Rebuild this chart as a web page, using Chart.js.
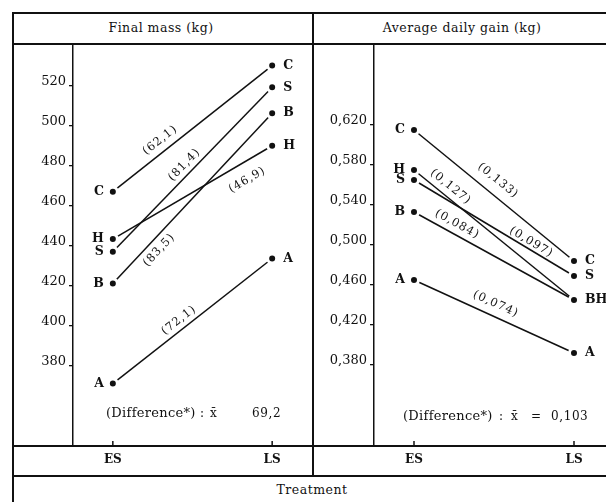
<!DOCTYPE html>
<html><head><meta charset="utf-8">
<script src="https://cdn.jsdelivr.net/npm/chart.js@4/dist/chart.umd.min.js"></script>
<style>
html,body{margin:0;padding:0;background:#fff;overflow:hidden;width:606px;height:502px;}
#wrap{position:relative;width:606px;height:502px;font-family:"DejaVu Serif","Liberation Serif",serif;color:#111;overflow:hidden;}
.h{position:absolute;background:#111;height:1.5px}
.v{position:absolute;background:#111;width:1.5px}
.t{position:absolute;white-space:pre;font-size:12px;line-height:14px;}
.hd{letter-spacing:0.5px;font-size:12.5px}
.df{font-size:13px;letter-spacing:0.3px}
.box{position:absolute}
</style></head><body>
<div id="wrap">
  <div class="h" style="left:12px;top:12px;width:600px"></div>
  <div class="h" style="left:12px;top:43px;width:600px"></div>
  <div class="h" style="left:12px;top:445px;width:600px"></div>
  <div class="h" style="left:12px;top:475px;width:600px"></div>
  <div class="v" style="left:12px;top:12px;height:500px"></div>
  <div class="v" style="left:312px;top:12px;height:464px"></div>
  <div class="t hd" style="left:0;top:21px;width:322px;text-align:center">Final mass (kg)</div>
  <div class="t hd" style="left:312px;top:21px;width:300px;text-align:center">Average daily gain (kg)</div>
  <div class="t hd" style="left:0;top:483px;width:624px;text-align:center">Treatment</div>
  <div class="box" style="left:12px;top:43px;width:300px;height:433px"><canvas id="c1" width="300" height="433"></canvas></div>
  <div class="box" style="left:312px;top:43px;width:302px;height:433px"><canvas id="c2" width="302" height="433"></canvas></div>
  <div class="t df" style="left:106px;top:406px">(Difference*)</div>
  <div class="t" style="left:200px;top:406px">:</div>
  <div class="t" style="left:210px;top:406px">x̄</div>
  <div class="t" style="left:252px;top:406px;letter-spacing:0.6px">69,2</div>
  <div class="t df" style="left:403px;top:409px">(Difference*)</div>
  <div class="t" style="left:499px;top:409px">:</div>
  <div class="t" style="left:511px;top:409px">x̄</div>
  <div class="t" style="left:531px;top:409px">=</div>
  <div class="t" style="left:551px;top:409px;letter-spacing:0.6px">0,103</div>
</div>
<script>
// ---- data ----
const treatments = ['ES', 'LS'];
const groups = ['A', 'B', 'C', 'H', 'S'];
const massES = [370.8, 421.0, 467.0, 443.2, 436.9];
const massLS = [433.5, 506.3, 530.2, 490.0, 519.3];
const massDiff = ['(72,1)', '(83,5)', '(62,1)', '(46,9)', '(81,4)'];
const adgES = [0.465, 0.533, 0.615, 0.575, 0.565];
const adgLS = [0.392, 0.445, 0.484, 0.445, 0.469];
const adgDiff = ['(0,074)', '(0,084)', '(0,133)', '(0,127)', '(0,097)'];
const adgLSLabels = ['A', 'BH', 'C', '', 'S'];
const massTicks = [380, 400, 420, 440, 460, 480, 500, 520];
const adgTicks = [0.380, 0.420, 0.460, 0.500, 0.540, 0.580, 0.620];

// ---- label placement (fraction along segment, perpendicular offset px) ----
const massPlace = [{t:0.45,o:9},{t:0.24,o:-11},{t:0.34,o:11},{t:0.79,o:-17},{t:0.49,o:9}];
const adgPlace  = [{t:0.48,o:12},{t:0.24,o:10},{t:0.47,o:14},{t:0.19,o:10},{t:0.71,o:7}];

const INK = '#111';
const FONT = '"DejaVu Serif","Liberation Serif",serif';

const annot = {
  id: 'annot',
  afterDatasetsDraw(chart) {
    const c = chart.options.plugins.annot;
    const ctx = chart.ctx, xs = chart.scales.x, ys = chart.scales.y;
    ctx.save();
    ctx.fillStyle = INK; ctx.strokeStyle = INK; ctx.lineWidth = 1.5;
    treatments.forEach((t, i) => {
      const x = xs.getPixelForValue(i);
      ctx.beginPath(); ctx.moveTo(x, chart.chartArea.bottom); ctx.lineTo(x, chart.chartArea.bottom - 5); ctx.stroke();
    });
    c.es.forEach((v, i) => {
      const x0 = xs.getPixelForValue(0), x1 = xs.getPixelForValue(1);
      const y0 = ys.getPixelForValue(v), y1 = ys.getPixelForValue(c.ls[i]);
      ctx.font = 'bold 12.5px ' + FONT;
      ctx.textBaseline = 'middle';
      ctx.textAlign = 'right';
      ctx.fillText(c.esLabels[i], x0 - 9, y0);
      ctx.textAlign = 'left';
      if (c.lsLabels[i]) ctx.fillText(c.lsLabels[i], x1 + 11, y1);
      const p = c.place[i];
      const a = Math.atan2(y1 - y0, x1 - x0);
      const px = x0 + (x1 - x0) * p.t + Math.sin(a) * p.o;
      const py = y0 + (y1 - y0) * p.t - Math.cos(a) * p.o;
      ctx.save();
      ctx.translate(px, py); ctx.rotate(a);
      ctx.font = '11.5px ' + FONT; ctx.textAlign = 'center';
      ctx.letterSpacing = '1px';
      ctx.fillText(c.diff[i], 0, 0);
      ctx.restore();
    });
    ctx.restore();
  }
};

function makeChart(id, es, ls, diff, esLabels, lsLabels, place, yTicks, ymin, ymax, fmt, yw) {
  const datasets = groups.map((g, i) => ({
    label: g,
    data: [{x: 0, y: es[i]}, {x: 1, y: ls[i]}],
    showLine: true,
    borderColor: INK,
    borderWidth: 1.5,
    pointRadius: 4.5,
    pointBorderWidth: 3,
    pointBackgroundColor: INK,
    pointBorderColor: '#fff'
  }));
  return new Chart(document.getElementById(id), {
    type: 'scatter',
    data: { datasets },
    plugins: [annot],
    options: {
      responsive: false, animation: false, devicePixelRatio: 1,
      layout: { padding: 0, autoPadding: false },
      plugins: {
        legend: { display: false }, tooltip: { enabled: false },
        annot: { es, ls, diff, esLabels, lsLabels, place }
      },
      scales: {
        x: {
          type: 'linear', min: -0.25, max: 1.25,
          afterBuildTicks: s => { s.ticks = treatments.map((t, i) => ({ value: i })); },
          afterFit: s => { s.height = 30; s.paddingLeft = 0; s.paddingRight = 0; },
          ticks: { callback: v => treatments[v], color: INK, font: { family: FONT, size: 12, weight: 'bold' }, padding: 7, maxRotation: 0, autoSkip: false },
          grid: { display: true, drawOnChartArea: false, drawTicks: false, color: INK },
          border: { display: true, color: INK, width: 1.5 }
        },
        y: {
          type: 'linear', min: ymin, max: ymax,
          afterBuildTicks: s => { s.ticks = yTicks.map(v => ({ value: v })); },
          afterFit: s => { s.width = yw; s.paddingTop = 0; s.paddingBottom = 0; },
          ticks: { callback: fmt, color: INK, font: { family: FONT, size: 13 }, padding: 3, labelOffset: -4, autoSkip: false },
          grid: { drawOnChartArea: false, drawTicks: true, tickLength: 4, color: INK, lineWidth: 1.3 },
          border: { display: true, color: INK, width: 1.5 }
        }
      }
    }
  });
}

makeChart('c1', massES, massLS, massDiff, groups, groups, massPlace, massTicks, 339.5, 541.5, v => String(v), 61);
makeChart('c2', adgES, adgLS, adgDiff, groups, adgLSLabels, adgPlace, adgTicks, 0.299, 0.702, v => v.toFixed(3).replace('.', ','), 62);
</script>
</body></html>
